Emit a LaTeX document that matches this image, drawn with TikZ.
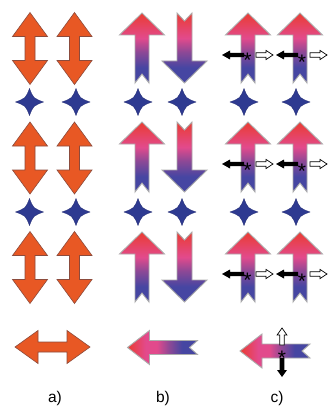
\documentclass[tikz,border=0pt]{standalone}
\usepackage{fontspec}
\setmainfont{Liberation Sans}
\definecolor{orng}{RGB}{232,88,36}
\definecolor{orngdark}{RGB}{140,75,60}
\definecolor{starblue}{RGB}{46,58,145}
\definecolor{gred}{RGB}{234,60,50}
\definecolor{gpink}{RGB}{226,74,140}
\definecolor{gpurp}{RGB}{140,72,150}
\definecolor{gblue}{RGB}{70,70,162}
\pgfdeclareverticalshading{arrgradV}{100bp}{color(0bp)=(gblue); color(25bp)=(gblue); color(36bp)=(gblue); color(47bp)=(gpurp); color(57bp)=(gpink); color(75bp)=(gred); color(100bp)=(gred)}
\pgfdeclarehorizontalshading{arrgradH}{100bp}{color(0bp)=(gred); color(25bp)=(gred); color(38bp)=(gpink); color(46bp)=(gpink); color(55bp)=(gpurp); color(64bp)=(gblue); color(100bp)=(gblue)}
\tikzset{
  orangearrow/.style={fill=orng, draw=orngdark, line width=0.6pt, line join=miter},
  starfill/.style={fill=starblue, draw=starblue!80!black, line width=0.3pt},
  gradV/.style={shading=arrgradV, draw=gray!65, line width=0.9pt},
  gradH/.style={shading=arrgradH, draw=gray!65, line width=0.9pt},
  blackarr/.style={fill=black},
  whitearr/.style={fill=white, draw=black, line width=0.7pt},
  lbl/.style={font=\fontsize{15.5}{15.5}\selectfont, inner sep=0pt},
  ast/.style={font=\fontsize{21}{21}\selectfont, inner sep=0pt, anchor=base},
  pics/vdbl/.style={code={
    \path[orangearrow] (0,-36) -- (17.5,-12) -- (5,-12) -- (5,12) -- (17.5,12) -- (0,36)
      -- (-17.5,12) -- (-5,12) -- (-5,-12) -- (-17.5,-12) -- cycle;}},
  pics/hdbl/.style={code={
    \path[orangearrow] (-37.5,0) -- (-14.5,-16.5) -- (-14.5,-5) -- (14.5,-5) -- (14.5,-16.5)
      -- (37.5,0) -- (14.5,16.5) -- (14.5,5) -- (-14.5,5) -- (-14.5,16.5) -- cycle;}},
  pics/fourstar/.style={code={
    \path[starfill] (0,-13.5) .. controls (3.8,-3.8) .. (14,0) .. controls (3.8,3.8) .. (0,13.5)
      .. controls (-3.8,3.8) .. (-14,0) .. controls (-3.8,-3.8) .. (0,-13.5) -- cycle;}},
  pics/upB/.style={code={
    \shadedraw[gradV] (0,-35) -- (22.5,-13) -- (7,-13) -- (7,35) -- (0,26) -- (-7,35)
      -- (-7,-13) -- (-22.5,-13) -- cycle;}},
  pics/downB/.style={code={
    \shadedraw[gradV] (0,35) -- (22.5,13) -- (7.5,13) -- (7.5,-35) -- (0,-27) -- (-7.5,-35)
      -- (-7.5,13) -- (-22.5,13) -- cycle;}},
  pics/leftB/.style={code={
    \shadedraw[gradH] (-35,0) -- (-13,-17) -- (-13,-7) -- (35,-7) -- (27,0) -- (35,7)
      -- (-13,7) -- (-13,17) -- cycle;}},
  pics/sidearrs/.style={code={
    \fill[blackarr] (-4,2.2) -- (-18,2.2) -- (-18,4.5) -- (-26,0) -- (-18,-4.5) -- (-18,-2.2) -- (-4,-2.2) -- cycle;
    \path[whitearr] (8,2.2) -- (18,2.2) -- (18,4.6) -- (25,0) -- (18,-4.6) -- (18,-2.2) -- (8,-2.2) -- cycle;}},
  pics/vertarrs/.style={code={
    \path[whitearr] (-2.3,-6) -- (-2.3,-16) -- (-4.9,-16) -- (0,-23) -- (4.9,-16) -- (2.3,-16) -- (2.3,-6) -- cycle;
    \fill[blackarr] (-2.3,7) -- (-2.3,19) -- (-5,19) -- (0,26) -- (5,19) -- (2.3,19) -- (2.3,7) -- cycle;}},
}
\begin{document}
\begin{tikzpicture}[x=1pt,y=-1pt]
\useasboundingbox[fill=white] (0,0) rectangle (328,409);
% column a
\foreach \cy in {48.5,158,267.5} {
  \pic at (30,\cy) {vdbl};
  \pic at (74.5,\cy) {vdbl};
}
\foreach \cy in {102,212} {
  \pic at (29.5,\cy) {fourstar};
  \pic at (76,\cy) {fourstar};
  \pic at (138,\cy) {fourstar};
  \pic at (182,\cy) {fourstar};
  \pic at (244,\cy) {fourstar};
  \pic at (296,\cy) {fourstar};
}
% column b
\foreach \cy in {48,157,267} {
  \pic at (142,\cy) {upB};
  \pic at (184.5,\cy) {downB};
}
% column c
\foreach \cy/\k in {48/1,157/2,267/3} {
  \pic at (248,\cy) {upB};
  \pic at (300,\cy) {upB};
  \pic at (248,\cy+7) {sidearrs};
  \pic at (302,\cy+7) {sidearrs};
  \node[ast] (astL\k) at (247.5,\cy+20) {*};
  \node[ast] (astR\k) at (302,\cy+21.5) {*};
}
% bottom row
\pic at (52.5,347) {hdbl};
\pic at (162.5,347.5) {leftB};
\pic at (275,351) {leftB};
\pic at (282,351) {vertarrs};
\node[ast] (astB) at (282,365) {*};
% labels
\node[lbl] (la) at (55,398) {a)};
\node[lbl] (lb) at (163,398) {b)};
\node[lbl] (lc) at (277,398) {c)};
\end{tikzpicture}
\end{document}
